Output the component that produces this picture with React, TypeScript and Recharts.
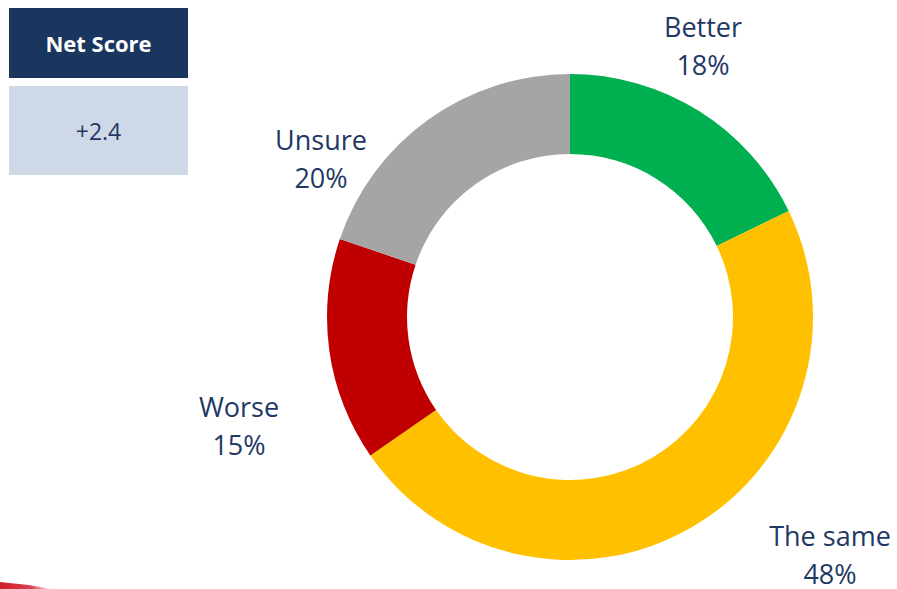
import React from "react";
import { PieChart, Pie, Cell } from "recharts";

const CATEGORIES = ["Better", "The same", "Worse", "Unsure"];
const VALUES = [18, 48, 15, 20];
const COLORS = ["#00B050", "#FFC000", "#C00000", "#A5A5A5"];
const NET_SCORE_TITLE = "Net Score";
const NET_SCORE_VALUE = "+2.4";

// label block centre, relative to pie centre
const LABEL_OFFSETS: Record<string, [number, number]> = {
  Better: [133, -271],
  "The same": [260, 238],
  Worse: [-331, 109],
  Unsure: [-249, -158],
};

const data = CATEGORIES.map((name, i) => ({ name, value: VALUES[i] }));

const TEXT_COLOR = "#1F3864";
const FONT = "'Open Sans', sans-serif";

const renderLabel = (props: any) => {
  const { cx, cy, name, value } = props;
  const off = LABEL_OFFSETS[name] || [0, 0];
  const x = cx + off[0];
  const y = cy + off[1];
  return (
    <text
      x={x}
      y={y}
      textAnchor="middle"
      fill={TEXT_COLOR}
      fontFamily={FONT}
      fontSize={27}
    >
      <tspan x={x} y={y - 9}>{name}</tspan>
      <tspan x={x} y={y + 29}>{`${value}%`}</tspan>
    </text>
  );
};

export default function App() {
  return (
    <div
      style={{
        position: "absolute",
        left: 0,
        top: 0,
        width: 897,
        height: 589,
        background: "#fff",
        overflow: "hidden",
        fontFamily: FONT,
      }}
    >
      <div
        style={{
          position: "absolute",
          left: 9,
          top: 8,
          width: 179,
          height: 70,
          background: "#1A355E",
          color: "#fff",
          fontWeight: 700,
          fontSize: 22,
          display: "flex",
          alignItems: "center",
          justifyContent: "center",
          fontFamily: FONT,
        }}
      >
        {NET_SCORE_TITLE}
      </div>
      <div
        style={{
          position: "absolute",
          left: 9,
          top: 86,
          width: 179,
          height: 89,
          background: "#CFD8E6",
          color: TEXT_COLOR,
          fontSize: 23,
          display: "flex",
          alignItems: "center",
          justifyContent: "center",
          fontFamily: FONT,
        }}
      >
        {NET_SCORE_VALUE}
      </div>
      <svg
        style={{ position: "absolute", left: 0, top: 560 }}
        width={80}
        height={29}
      >
        <defs>
          <linearGradient id="sw" x1="0" x2="1" y1="0" y2="0">
            <stop offset="0" stopColor="#D11F2E" stopOpacity={1} />
            <stop offset="0.6" stopColor="#D11F2E" stopOpacity={0.85} />
            <stop offset="1" stopColor="#D11F2E" stopOpacity={0} />
          </linearGradient>
        </defs>
        <path d="M0,22 Q26,24 52,29 L0,29 Z" fill="url(#sw)" />
      </svg>
      <div style={{ position: "absolute", left: 0, top: 0 }}>
        <PieChart
          width={897}
          height={589}
          margin={{ top: 0, right: 0, bottom: 0, left: 0 }}
        >
          <Pie
            data={data}
            dataKey="value"
            nameKey="name"
            cx={570}
            cy={317}
            innerRadius={163}
            outerRadius={243}
            startAngle={90}
            endAngle={-270}
            stroke="none"
            label={renderLabel}
            labelLine={false}
            isAnimationActive={false}
          >
            {data.map((d, i) => (
              <Cell key={d.name} fill={COLORS[i]} />
            ))}
          </Pie>
        </PieChart>
      </div>
    </div>
  );
}
